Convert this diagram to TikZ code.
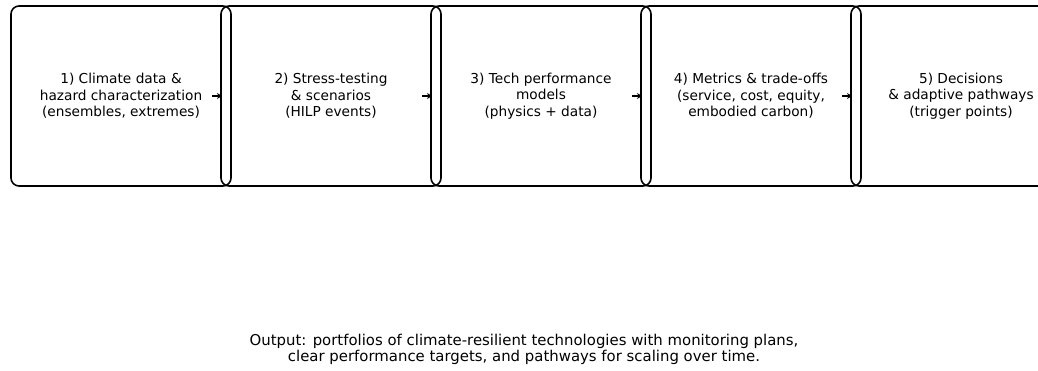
\documentclass[tikz,border=0pt]{standalone}
\usepackage{fontspec}
\setmainfont{DejaVu Sans}
\usepackage{tikz}
\usetikzlibrary{arrows.meta,positioning}

\tikzset{
  stagebox/.style={draw=black, line width=1.6pt, rounded corners=8pt,
    minimum width=220pt, minimum height=180pt, inner sep=0pt, outer sep=0pt,
    align=center, font=\fontsize{13.7}{16.6}\selectfont},
  flowarrow/.style={-{Stealth[length=5pt,width=6pt]}, line width=1.2pt}
}

\begin{document}
\begin{tikzpicture}[x=1pt, y=1pt]
    \clip (0,0) rectangle (1038,-370);
    \useasboundingbox (0,0) rectangle (1038,-370);

    % the five stages, each one overlapping its neighbour a little
    \node[stagebox] (climate) at (121,-96) {1) Climate data \&\\hazard characterization\\(ensembles, extremes)};
    \node[stagebox, right=-10pt of climate] (stress) {2) Stress-testing\\\& scenarios\\(HILP events)};
    \node[stagebox, right=-10pt of stress] (techperf) {3) Tech performance\\models\\(physics + data)};
    \node[stagebox, right=-10pt of techperf] (metrics) {4) Metrics \& trade-offs\\(service, cost, equity,\\embodied carbon)};
    \node[stagebox, right=-10pt of metrics] (decide) {5) Decisions\\\& adaptive pathways\\(trigger points)};

    % short arrows into each next stage
    \foreach \nxt in {stress,techperf,metrics,decide}{
        \coordinate (from-\nxt) at ([xshift=-9pt]\nxt.west);
        \draw[flowarrow] (from-\nxt) -- ([xshift=1pt]\nxt.west);
    }

    \node[align=center, font=\fontsize{14.9}{16.2}\selectfont] (output) at (524,-349)
        {Output: portfolios of climate-resilient technologies with monitoring plans,\\clear performance targets, and pathways for scaling over time.};
\end{tikzpicture}
\end{document}
